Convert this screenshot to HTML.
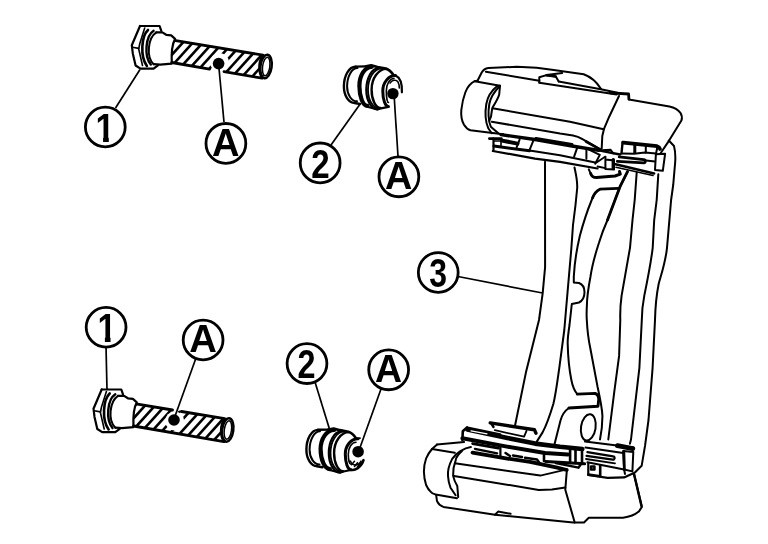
<!DOCTYPE html>
<html><head><meta charset="utf-8"><title>Torque member</title>
<style>
html,body{margin:0;padding:0;background:#fff;}
svg{display:block;filter:grayscale(1);}
.l{fill:none;stroke:#000;stroke-width:1.6;stroke-linecap:round;stroke-linejoin:round;}
.t{fill:none;stroke:#000;stroke-width:2.2;stroke-linecap:round;stroke-linejoin:round;}
.w{fill:#fff;stroke:#000;stroke-width:1.6;stroke-linecap:round;stroke-linejoin:round;}
.c{fill:#fff;stroke:#000;stroke-width:2.8;}
.ld{fill:none;stroke:#000;stroke-width:1.7;}
text{font-family:"Liberation Sans",sans-serif;font-weight:bold;font-size:100px;fill:#000;}
</style></head><body>
<svg width="768" height="544" viewBox="0 0 768 544">
<rect width="768" height="544" fill="#fff"/>
<g id="caliper" fill="none" stroke="#000" stroke-width="2" stroke-linecap="round" stroke-linejoin="round">
<!-- ===== TOP BODY ===== -->
<g id="topbody">
<!-- top outline -->
<path d="M477.5,80.8 L481.7,72.5 Q484,68.6 488.3,68 L516.7,66.8 L536.7,67.8 L553.7,70 L583.7,74.3 Q594,78 600.9,88.7"/>
<!-- ridge from left to tab -->
<path d="M485.8,71.7 L539.3,80.8"/>
<!-- tab -->
<path d="M539.3,77.2 V82.6 M539.3,77.2 L546.5,75.1 L562.2,72.9 M546.5,75.3 L555.8,76.5 L558.7,81.5" stroke-width="2"/>
<path d="M546.5,75.3 L555.8,76.5" stroke-width="2.6"/>
<!-- ridges right of tab -->
<path d="M558.7,81.5 L600.9,89.2 L621,93.5"/>
<path d="M539.3,82.8 L616.7,94.4"/>
<path d="M610,92.8 L628.6,94 L628.9,99.2" stroke-width="2.8"/>
<path d="M628.9,99.5 L630.4,99.8 L669.4,106.4 Q677,108 680.4,112.8 Q682.8,116.5 681.4,120.6 L669.4,140.1 L660.6,153.2"/>
<!-- vertical divider -->
<path d="M619,96 L609.2,116.7 L604.2,128.3 L602.3,136 L601.7,148.5"/>
<!-- body lines -->
<path d="M492.5,108.3 L570,121.8 L603.6,129.2"/>
<path d="M491.7,121.7 L560,133.6 L573,135.4 Q578,136.3 582.5,139.2 L600.5,149.6"/>
<path d="M586,141.5 L600.5,149.6" stroke-width="2.6"/>
<!-- boss -->
<path d="M477.5,80.8 L474.7,81.2 C470,83.5 467,88 465.3,92.5 C463,98.5 462,104 461.3,110 C460.8,116 461.8,121 464,124.8 C466,128 468,129.6 470.5,130.3 L488.5,132.6 L503.3,134.2"/>
<path d="M474.7,81.2 L500,85.8" stroke-width="2"/>
<path d="M497.5,85.8 C491,91 487.5,97 486.3,104 C485,112 485.5,122 488.3,128.3 L491.7,133.3"/>
<path d="M500,85.8 C494,92 490.5,97 489.3,104 C488,112 488.5,121 490.8,126.7 L498.3,133.3"/>
<path d="M500,85.8 L499.2,94.5 C498,99 494.5,104 492.6,107.5 C491.5,111 491.5,114 491,116.5 L489.3,120.5"/>
</g>
<!-- ===== TOP CLIP ===== -->
<g id="topclip">
<path d="M501,134.6 L536.6,139.8 L572,146 L598.7,150.4" stroke-width="3.4"/>
<path d="M536,138.6 L572,144.5" stroke-width="3"/>
<path d="M489.3,138.6 H501.4" stroke-width="2.6"/>
<path d="M493.5,138.6 V150.5" stroke-width="2.2"/>
<path d="M494.5,141 H501 V145.5" stroke-width="1.6"/>
<path d="M494,146 L529.5,150.8" stroke-width="3"/>
<path d="M502,140.6 L517.5,143.6" stroke-width="4"/>
<path d="M519.6,139.6 L516.6,147.3 M533.6,140 L529.5,150.2"/>
<path d="M529.5,150.5 L560,155.2 L595.2,162.5"/>
<path d="M492.8,151 L535,158.6 L560,161.9 L597.5,168.5" stroke-width="2.2"/>
<path d="M577.6,146.7 L574.1,156.6 M586.4,148.4 V158.8"/>
<path d="M586.4,148.4 L599.8,154.9 L595.2,163.7"/>
<path d="M605.4,157 V169 L614.1,169.4 M605.4,159.4 L612,160.2"/>
<path d="M613.3,159.6 V168.4" stroke-width="3.4"/>
<path d="M596.6,162.6 L605.4,156.6 M597.5,166.5 L605.4,168.2" stroke-width="1.8"/>
<path d="M602.1,150.2 L610.4,149.7 L613.2,153.4"/>
<path d="M598.7,150.4 L620,154.5" stroke-width="2.4"/>
<!-- right clip -->
<path d="M623.3,142.6 L657,146.2 Q659.5,147 660,149" stroke-width="3.8"/>
<path d="M622.6,142 L621.5,153.4" stroke-width="2.4"/>
<path d="M634.8,144 V152.6" stroke-width="3"/>
<path d="M645.8,146 V152.6" stroke-width="2"/>
<path d="M621.5,153.6 L634,153.8 L645,152.6 L656,153.6" stroke-width="2"/>
<path d="M655.9,154.3 L665.1,153.8 L662.8,170.8 L655,169.9 Z"/>
<path d="M657.5,146.5 L655.9,154.3"/>
<path d="M619.2,156.8 L643.6,159.6 A1.6,1.6 0 0 1 643.8,162.8 L617.3,161.4" stroke-width="2.8"/>
<path d="M646,160.5 L655,161.5"/>
<path d="M615.5,164.2 L654.1,173.4" stroke-width="2.6"/>
<path d="M616,167.2 L653,175.5" stroke-width="1.6"/>
<!-- bracket below -->
<path d="M588.8,169.4 L590.7,173.6" stroke-width="2"/>
<path d="M590.7,173.6 Q592,177.6 596.5,177.6 L615,176 L620.3,174.2 L619.5,171.5" stroke-width="3"/>
</g>
<!-- ===== COLUMN ===== -->
<g id="column">
<path d="M545,161.7 L545.1,267 L542.7,293.2 L539,320 L525.9,372.6 L515.1,425.2" stroke-width="2"/>
<path d="M574.5,167.5 C576,175 577.5,180 577.2,188 L575.5,205 L573,225 L571.4,247.8 L566,310 L564.3,330 L559.3,367.8 C557.5,380 556,393 553.4,403.7 C550,415 547,424 542.6,432.4 L536.6,441.9"/>
<path d="M600,189.2 C596,191 593.5,195 591.7,200 C588,209 583,224 579.8,235.9 C576.5,250 574.5,263 573.8,276.5 V282.5 L579,283 C583,284.5 584.5,288 584.5,292 C584.5,297 583,300.5 579,302.5 L571.8,304 L569.5,325 C568,335 567.5,340 567.7,343.9 C568,357 569,368 571.3,379.8 C572.5,386 574,390.5 577.3,394.1"/>
<path d="M618.3,188.3 L600,189.2 C596,191 594,194 592.5,198" stroke-width="2.8"/>
<path d="M577.3,394.1 L595.2,393.4 Q598.5,394.5 598.8,398.9 L598,406.2 L568.9,408" stroke-width="2.9"/>
<path d="M568.9,408 C564.5,411 562,415 560.5,420.4 L554.5,444.3"/>
<path d="M627.5,171.7 L620,186.7 L607.5,220" stroke-width="2.8"/>
<path d="M627.5,171.7 L620,186.7 L607.5,220 C603.5,229 601,236 598.9,243 C595,255 592,266 590.5,276.5 C588.5,287 587,296 586.9,305.2 C586.5,312 586.5,316 586.8,320 C587.3,330 588.5,340 590.4,348.7 L597.6,387 C600,398 602,407 602.4,415.6 C602.5,424 601.5,432 600,439.5" stroke-width="2"/>
<path d="M636.7,172.5 L634.7,200 L632.5,220 L630,247.8 L621.6,295.6 C620.3,305 620,312 620.3,320 L619.1,355.9 L614.3,391.7 L608.3,439.5"/>
<path d="M658.3,174.2 L656.7,200 L654.2,220 L652.7,247.8 C651,262 647.5,280 644.3,295.6 C642.5,305 641.8,312 641.8,320 L639.4,367.8 L631,439.5 L629.9,443.7"/>
<path d="M668.8,140.5 L674,146 Q675.8,153 675.2,162 L673.2,185 L671.1,200 L667,247.8 C665.5,262 662,272 658.7,283.7 C656,297 655.3,308 655,320 L652.6,367.8 L648.5,420 L645.1,445.4 L641.7,465.7 L634.9,472.5"/>
<ellipse cx="588.3" cy="427.4" rx="7.3" ry="13.2" transform="rotate(9 588.3 427.4)"/>
</g>
<!-- ===== BOTTOM BODY ===== -->
<g id="botbody">
<path d="M437.1,444.6 L432,449 C429,452.5 427,456 426.1,458.5 C424.5,463 423.9,467 423.9,471.8 C424,477 425,481.5 426.1,485 C427.5,488 429,490.3 430.5,491.6 C432,493.3 433.5,494.2 435.6,494.6 L457,498.2"/>
<path d="M437,444.5 L464.1,442"/>
<path d="M432,449 L454.8,452.8"/>
<path d="M470.9,447.1 C464,448 456,453 452.2,458.9 C449,465 447.5,470 448,476 C448.3,481 449,484 450.5,487.7 L455.6,495.3"/>
<path d="M462,451 C458,454.5 456,457 455.6,460.6 C453.5,466 452.8,471 453.1,475.9 C454,480 455.5,483 457.3,486 L458.2,497"/>
<path d="M454.8,463.2 L540.3,475.6 L566.9,469.4"/>
<path d="M453.9,475.9 L538.8,489.9 L552,489.6 L565.3,487.6"/>
<path d="M436.2,495.3 L437,501.2 Q439,505.5 443.4,506.9 L495,514.7 L573.1,522.5 H584 L588.8,517.8 H623.1 Q633,516.5 638.8,511.6 L641.9,506.9 L634,474" />
<path d="M495,514.7 L498.1,511.6 L510.6,513.8"/>
<path d="M566.9,469.4 L565.3,489.7 L574.7,522.5"/>
<path d="M634,474 L641.5,506" stroke-width="2.4"/>
</g>
<!-- ===== BOTTOM CLIP ===== -->
<g id="botclip">
<path d="M490.2,422.9 L534.5,429.8 L535.9,433.2" stroke-width="3.4"/>
<path d="M491,423 L493.5,427" stroke-width="2.4"/>
<path d="M494.8,430.2 L524.1,436.7 L526.5,430.8" stroke-width="1.8"/>
<path d="M467.4,429.6 L507.4,438 L535,443.6 L560,446.8 L582.3,449" stroke-width="4.6"/>
<path d="M467.4,428 L500,434.6" stroke-width="3"/>
<path d="M467,427.4 L462.8,431.2 L462.4,440" stroke-width="2.6"/>
<path d="M471,430.8 L487,433.8" stroke-width="1.2" stroke="#fff"/>
<path d="M462.4,438.2 L507,446.6 L545,453 L568,454.4" stroke-width="4"/>
<path d="M472.6,443.6 L498.4,448.2" stroke-width="2.8"/>
<path d="M474.9,448.8 L497.2,453.4" stroke-width="2.2"/>
<path d="M500.4,447.5 V456.5" stroke-width="2.2"/>
<path d="M505.5,453 L510,456 M513,455.5 L522,457 M525,457.8 L537,459.5 L539.5,463" stroke-width="2.4"/>
<path d="M472.5,452.6 L507.4,458.6 L530,461.8 L557.3,467.7 L566.7,470" stroke-width="3.8"/>
<path d="M545.6,461.4 L584.7,463.8" stroke-width="3"/>
<path d="M555.8,463 L578.4,467.7 L581,464" stroke-width="2.4"/>
<path d="M544,453 V461 M570.1,449 V462 M575.5,449.5 V463 M582,448.5 V464" stroke-width="2.6"/>
<!-- right clip -->
<path d="M585,441.6 L617,445.4 L633.2,447.4"/>
<path d="M617.5,445.6 L632.8,448.6" stroke-width="4.8"/>
<path d="M585.5,447.5 L623.2,453" stroke-width="2"/>
<path d="M587.4,452.2 L613.2,456.4 A1.6,1.6 0 0 1 612.8,459.6 L586.5,455.8" stroke-width="2.2"/>
<path d="M586,459 L615,463.4" stroke-width="1.8"/>
<path d="M587.4,462.2 L624.1,469.5 L625,474" stroke-width="2"/>
<path d="M623.2,451.1 L633.3,452 L632.4,471.4 L624.1,469.5 Z"/>
<path d="M623.8,451.5 L624.4,469.5" stroke-width="2.8"/>
<path d="M588.3,463 V475 L607.6,477.8 L624.1,477.4 L633.3,473.2" stroke-width="2.2"/>
<path d="M588.3,474.6 L600.2,476.2 V465.8" stroke-width="2.6"/>
<path d="M591,466.5 H594.5 V469.5 H591 Z" stroke-width="2.4"/>
</g>
</g>

<g id="bolt1" transform="translate(0 0)">
<clipPath id="th1"><path d="M175.3,40.3 L262.5,54.3 C259,60 259,72 262.5,79 L171.8,62.5 C171,52 172.5,44 175.3,40.3 Z"/></clipPath>
<g clip-path="url(#th1)" stroke="#000" stroke-width="2.6" fill="none">
<path d="M134.7,85 L181.5,33.0"/>
<path d="M144.7,85 L191.5,33.0"/>
<path d="M154.7,85 L201.5,33.0"/>
<path d="M164.7,85 L211.5,33.0"/>
<path d="M174.7,85 L221.5,33.0"/>
<path d="M184.7,85 L231.5,33.0"/>
<path d="M194.7,85 L241.5,33.0"/>
<path d="M204.7,85 L251.5,33.0"/>
<path d="M214.7,85 L261.5,33.0"/>
<path d="M224.7,85 L271.5,33.0"/>
<path d="M234.7,85 L281.5,33.0"/>
<path d="M244.7,85 L291.5,33.0"/>
<path d="M254.7,85 L301.5,33.0"/>
<path d="M264.7,85 L311.5,33.0"/>
<path d="M274.7,85 L321.5,33.0"/>
<path d="M284.7,85 L331.5,33.0"/>
</g>
<circle cx="219.5" cy="62.5" r="9.5" fill="#fff"/>
<g class="t">
<path d="M140,26 H159.6 L161.3,30.8"/>
<path d="M140,26 L131.8,45.2 L132.8,53.4 L135.6,65.5 L140.5,68.6 H153.6 L158,65.3"/>
</g><g class="t" stroke-width="2.8" style="stroke-width:2.8"><path d="M175.8,40.6 L263,55.2"/>
<path d="M171.8,62.5 L209.5,69.1 M224,71.6 L262.1,78.2"/></g><g class="t">
<path d="M156.3,32.4 H162.4 L166.2,34.8 L171.2,35.4 L175.1,38.8 C172.2,44 171.3,54 171.8,63.6 L160.2,64.6 L153.8,64.2"/>
<ellipse cx="266" cy="66.5" rx="5.6" ry="11.8" transform="rotate(8 266 66.5)" stroke-width="2.5"/>
<ellipse cx="266.2" cy="66.5" rx="3.6" ry="9.4" transform="rotate(8 266.2 66.5)" stroke-width="1.5"/>
</g>
<g class="l">
<path d="M144.7,28 L139.8,43.5 L138.7,49 L142.5,65.5"/>
<path d="M132.6,47.3 L138.7,48.4"/>
<path d="M148,30 C141.5,36 139.8,56 146.9,66" stroke-width="2.6"/>
<path d="M153.6,30.8 C145.6,36 143.8,56 150.8,64.6" stroke-width="2.4"/>
<path d="M156.3,32.4 C147.8,38 146,57 153.6,64.2" stroke-width="2"/>
<path d="M262.6,56 C258.4,62 258.4,72 262,77.4" stroke-width="2.4"/>
</g>
<circle cx="218.6" cy="63.6" r="5.8" fill="#000"/>
</g>
<g id="bolt2" transform="translate(-38.3 363.5)">
<clipPath id="th2"><path d="M175.3,40.3 L262.5,54.3 C259,60 259,72 262.5,79 L171.8,62.5 C171,52 172.5,44 175.3,40.3 Z"/></clipPath>
<g clip-path="url(#th2)" stroke="#000" stroke-width="2.6" fill="none">
<path d="M134.7,85 L181.5,33.0"/>
<path d="M144.7,85 L191.5,33.0"/>
<path d="M154.7,85 L201.5,33.0"/>
<path d="M164.7,85 L211.5,33.0"/>
<path d="M174.7,85 L221.5,33.0"/>
<path d="M184.7,85 L231.5,33.0"/>
<path d="M194.7,85 L241.5,33.0"/>
<path d="M204.7,85 L251.5,33.0"/>
<path d="M214.7,85 L261.5,33.0"/>
<path d="M224.7,85 L271.5,33.0"/>
<path d="M234.7,85 L281.5,33.0"/>
<path d="M244.7,85 L291.5,33.0"/>
<path d="M254.7,85 L301.5,33.0"/>
<path d="M264.7,85 L311.5,33.0"/>
<path d="M274.7,85 L321.5,33.0"/>
<path d="M284.7,85 L331.5,33.0"/>
</g>
<circle cx="213" cy="57.5" r="9.5" fill="#fff"/>
<g class="t">
<path d="M140,26 H159.6 L161.3,30.8"/>
<path d="M140,26 L131.8,45.2 L132.8,53.4 L135.6,65.5 L140.5,68.6 H153.6 L158,65.3"/>
</g><g class="t" stroke-width="2.8" style="stroke-width:2.8"><path d="M175.8,40.6 L210.8,46.5 M219.8,48.0 L263,55.2"/>
<path d="M171.8,62.5 L262.1,78.2"/></g><g class="t">
<path d="M156.3,32.4 H162.4 L166.2,34.8 L171.2,35.4 L175.1,38.8 C172.2,44 171.3,54 171.8,63.6 L160.2,64.6 L153.8,64.2"/>
<ellipse cx="266" cy="66.5" rx="5.6" ry="11.8" transform="rotate(8 266 66.5)" stroke-width="2.5"/>
<ellipse cx="266.2" cy="66.5" rx="3.6" ry="9.4" transform="rotate(8 266.2 66.5)" stroke-width="1.5"/>
</g>
<g class="l">
<path d="M144.7,28 L139.8,43.5 L138.7,49 L142.5,65.5"/>
<path d="M132.6,47.3 L138.7,48.4"/>
<path d="M148,30 C141.5,36 139.8,56 146.9,66" stroke-width="2.6"/>
<path d="M153.6,30.8 C145.6,36 143.8,56 150.8,64.6" stroke-width="2.4"/>
<path d="M156.3,32.4 C147.8,38 146,57 153.6,64.2" stroke-width="2"/>
<path d="M262.6,56 C258.4,62 258.4,72 262,77.4" stroke-width="2.4"/>
</g>
<circle cx="212.3" cy="56.5" r="5.8" fill="#000"/>
</g>
<g id="boot1" fill="none" stroke="#000" stroke-linecap="round" stroke-linejoin="round">
<path d="M355.5,66.7 C349.1,66.7 343.9,75.6 343.9,86.5 C343.9,95.6 348.6,102.9 354.5,102.9" stroke-width="2.4"/>
<path d="M357.5,68.1 C351.8,68.1 347.1,76.3 347.1,86.5 C347.1,94.7 351.5,101.3 357.0,101.3" stroke-width="2"/>
<path d="M355.5,66.6 L366.0,66.4 M354.5,103.0 L360.0,104.0" stroke-width="2.4"/>
<path d="M371.7,66.8 C364.9,66.8 359.4,75.4 359.4,85.9 C359.4,96.9 363.0,105.9 367.4,105.9" stroke-width="4.2"/>
<path d="M366.0,66.4 L371.2,65.4 L377.5,67.0 L385.8,68.6 C389.0,69.5 391.5,72.0 393.6,75.3" stroke-width="2.7"/>
<path d="M367.2,106.8 L377.5,109.4 L381.0,108.3 L388.4,106.8" stroke-width="2.2"/>
<path d="M378.8,68.2 C371.9,68.2 366.3,77.8 366.3,89.7 C366.3,100.5 371.3,109.3 377.5,109.3" stroke-width="2.2"/>
<path d="M381.5,68.5 C374.0,68.5 368.0,78.0 368.0,89.7 C368.0,100.1 373.1,108.5 379.5,108.5" stroke-width="1.8"/>
<path d="M386.5,68.9 C378.3,68.9 371.6,78.2 371.6,89.7 C371.6,99.8 375.6,108.0 380.5,108.0" stroke-width="2.4"/>
<path d="M395.5,75.6 C388.5,75.6 382.8,82.5 382.8,91.0 C382.8,99.6 385.3,106.5 388.4,106.5" stroke-width="3"/>
<path d="M394.0,78.5 C389.7,78.5 386.3,84.1 386.3,91.0 C386.3,97.4 387.3,102.5 388.5,102.5" stroke-width="1.6"/>
<path d="M395.5,75.6 C400.0,77.5 402.2,84.0 401.9,92.3" stroke-width="2.2"/>
<path d="M390.0,83.0 C392.0,80.0 396.0,79.0 398.0,82.0 C399.0,84.0 399.5,86.0 399.3,88.0" stroke-width="1.6"/>
<circle cx="392.9" cy="93.6" r="5.7" fill="#000" stroke="none"/>
</g>
<g id="boot2" fill="none" stroke="#000" stroke-linecap="round" stroke-linejoin="round">
<path d="M318.0,429.9 C311.6,429.9 306.4,438.8 306.4,449.7 C306.4,458.8 311.1,466.1 317.0,466.1" stroke-width="2.4"/>
<path d="M320.0,431.3 C314.3,431.3 309.6,439.5 309.6,449.7 C309.6,457.9 314.0,464.5 319.5,464.5" stroke-width="2"/>
<path d="M318.0,429.8 L328.5,429.6 M317.0,466.2 L322.5,467.2" stroke-width="2.4"/>
<path d="M334.2,430.0 C326.7,430.0 320.6,438.6 320.6,449.1 C320.6,460.1 324.8,469.1 329.9,469.1" stroke-width="4.2"/>
<path d="M328.5,429.6 L333.7,428.6 L340.0,430.2 L348.3,431.8 C351.5,432.7 354.0,435.2 356.1,438.5" stroke-width="2.7"/>
<path d="M329.7,470.0 L340.0,472.6 L343.5,471.5 L350.9,470.0" stroke-width="2.2"/>
<path d="M341.3,431.4 C334.4,431.4 328.8,441.0 328.8,452.9 C328.8,463.7 333.8,472.5 340.0,472.5" stroke-width="2.2"/>
<path d="M344.0,431.7 C336.5,431.7 330.5,441.2 330.5,452.9 C330.5,463.3 335.6,471.7 342.0,471.7" stroke-width="1.8"/>
<path d="M349.0,432.1 C340.8,432.1 334.1,441.4 334.1,452.9 C334.1,463.0 338.1,471.2 343.0,471.2" stroke-width="2.4"/>
<path d="M358.0,438.8 C351.0,438.8 345.3,445.7 345.3,454.2 C345.3,462.8 347.8,469.7 350.9,469.7" stroke-width="3"/>
<path d="M356.0,442.2 C351.7,442.2 348.3,447.6 348.3,454.2 C348.3,459.7 349.5,464.2 351.0,464.2" stroke-width="1.6"/>
<path d="M350.9,469.7 C354.5,471.2 361.5,467.2 363.5,460.2" stroke-width="2.6"/>
<path d="M350.5,461.2 C352.5,466.2 358.5,466.2 361.0,461.2" stroke-width="1.6"/>
<path d="M351.5,464.7 L354.5,461.2 M354.5,466.5 L357.5,462.7 M357.5,466.7 L360.5,463.2" stroke-width="1.5"/>
<path d="M355.5,438.7 L360.0,438.2" stroke-width="1.8"/>
<circle cx="358.1" cy="451.7" r="5.8" fill="#000" stroke="none"/>
</g>
<g class="ld" id="leaders">
<path d="M115.5,108 L140,69.5"/>
<path d="M224,122 L218.6,64"/>
<path d="M331,145 L359.6,104.8"/>
<path d="M398,156 L394,94"/>
<path d="M458,276.5 L542.5,293"/>
<path d="M106,346 L107,390"/>
<path d="M196,358 L174,419"/>
<path d="M315,382 L329.3,428.5"/>
<path d="M381,389 L359.5,449"/>
</g>

<g id="labels">
<circle class="c" cx="105.30" cy="127.00" r="19.9"/>
<clipPath id="k1"><path d="M85.30,107.00 H125.30 V136.73 H108.80 V142.80 H103.07 V136.73 H85.30 Z"/></clipPath>
<g clip-path="url(#k1)"><text transform="matrix(0.3438 0 0 0.4058 95.58 141.80)">1</text></g>
<circle class="c" cx="225.90" cy="143.40" r="19.9"/>
<text transform="matrix(0.3812 0 0 0.3855 212.11 155.60)">A</text>
<circle class="c" cx="320.15" cy="162.90" r="19.9"/>
<text transform="matrix(0.3313 0 0 0.4014 311.24 177.90)">2</text>
<circle class="c" cx="398.90" cy="176.85" r="19.9"/>
<text transform="matrix(0.3782 0 0 0.3855 385.11 188.60)">A</text>
<circle class="c" cx="438.25" cy="272.45" r="19.9"/>
<text transform="matrix(0.3196 0 0 0.4127 429.18 287.48)">3</text>
<circle class="c" cx="106.10" cy="327.25" r="19.9"/>
<clipPath id="k12"><path d="M86.10,307.25 H126.10 V336.59 H110.55 V342.60 H104.89 V336.59 H86.10 Z"/></clipPath>
<g clip-path="url(#k12)"><text transform="matrix(0.3388 0 0 0.4006 97.51 341.60)">1</text></g>
<circle class="c" cx="203.10" cy="340.00" r="19.9"/>
<text transform="matrix(0.3828 0 0 0.3855 189.34 352.40)">A</text>
<circle class="c" cx="307.00" cy="363.60" r="19.9"/>
<text transform="matrix(0.3240 0 0 0.4057 297.62 378.40)">2</text>
<circle class="c" cx="388.65" cy="369.85" r="19.9"/>
<text transform="matrix(0.3746 0 0 0.3855 374.96 381.60)">A</text>
</g>
</svg>
</body></html>
